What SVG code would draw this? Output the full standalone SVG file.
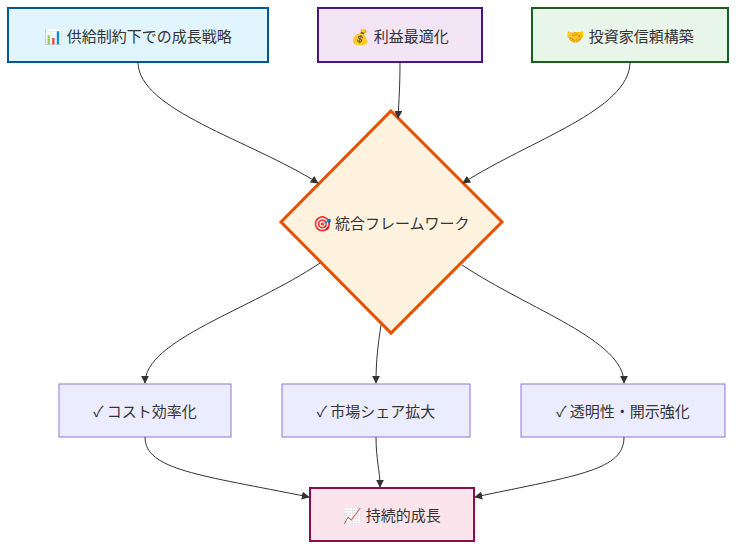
<svg xmlns="http://www.w3.org/2000/svg" width="736" height="550" viewBox="0 0 736 550">
<defs>
<marker id="ah" viewBox="0 0 10 10" refX="9" refY="5" markerWidth="8" markerHeight="8" orient="auto"><path d="M0,0 L10,5 L0,10 z" fill="#333"/></marker>
<style>
text{font-family:"Noto Sans CJK JP","Liberation Sans",sans-serif;font-size:15px;fill:#333;text-anchor:middle;dominant-baseline:central}
.e{fill:none;stroke:#333;stroke-width:1;marker-end:url(#ah)}
.m{fill:#ececff;stroke:#9370db;stroke-width:1}
</style>
</defs>
<rect width="736" height="550" fill="#fff"/>
<g id="n1"><rect x="8" y="8" width="260" height="54" fill="#e1f5fe" stroke="#01579b" stroke-width="2"/><text x="138" y="35">📊 供給制約下での成長戦略</text></g>
<g id="n2"><rect x="318" y="8" width="164" height="54" fill="#f3e5f5" stroke="#4a148c" stroke-width="2"/><text x="400" y="35">💰 利益最適化</text></g>
<g id="n3"><rect x="532" y="8" width="196" height="54" fill="#e8f5e9" stroke="#1b5e20" stroke-width="2"/><text x="630" y="35">🤝 投資家信頼構築</text></g>
<g id="d"><polygon points="391,111 502,222 391,333 281,222" fill="#fff3e0" stroke="#e65100" stroke-width="3"/><text x="391" y="222">🎯 統合フレームワーク</text></g>
<g id="a"><rect class="m" x="59" y="384" width="172" height="53"/><text x="145" y="410">✓ コスト効率化</text></g>
<g id="b"><rect class="m" x="282" y="384" width="188" height="53"/><text x="376" y="410">✓ 市場シェア拡大</text></g>
<g id="c"><rect class="m" x="521" y="384" width="204" height="53"/><text x="623" y="410">✓ 透明性・開示強化</text></g>
<g id="f"><rect x="310" y="488" width="164" height="53" fill="#fce4ec" stroke="#880e4f" stroke-width="2"/><text x="392" y="514">📈 持続的成長</text></g>
<g id="edges">
<path class="e" d="M138,62 C138,110 250,140 318,183"/>
<path class="e" d="M400,62 C400,85 399,100 398,118"/>
<path class="e" d="M630,62 C630,110 530,140 463,183"/>
<path class="e" d="M320,263 C250,310 145,340 145,383"/>
<path class="e" d="M381,325 C378,345 376,360 376,383"/>
<path class="e" d="M462,265 C530,310 624,340 624,383"/>
<path class="e" d="M145,437 C145,470 200,475 309,497"/>
<path class="e" d="M376,437 C376,460 380,470 380,487"/>
<path class="e" d="M624,437 C624,470 580,475 475,497"/>
</g>
</svg>
